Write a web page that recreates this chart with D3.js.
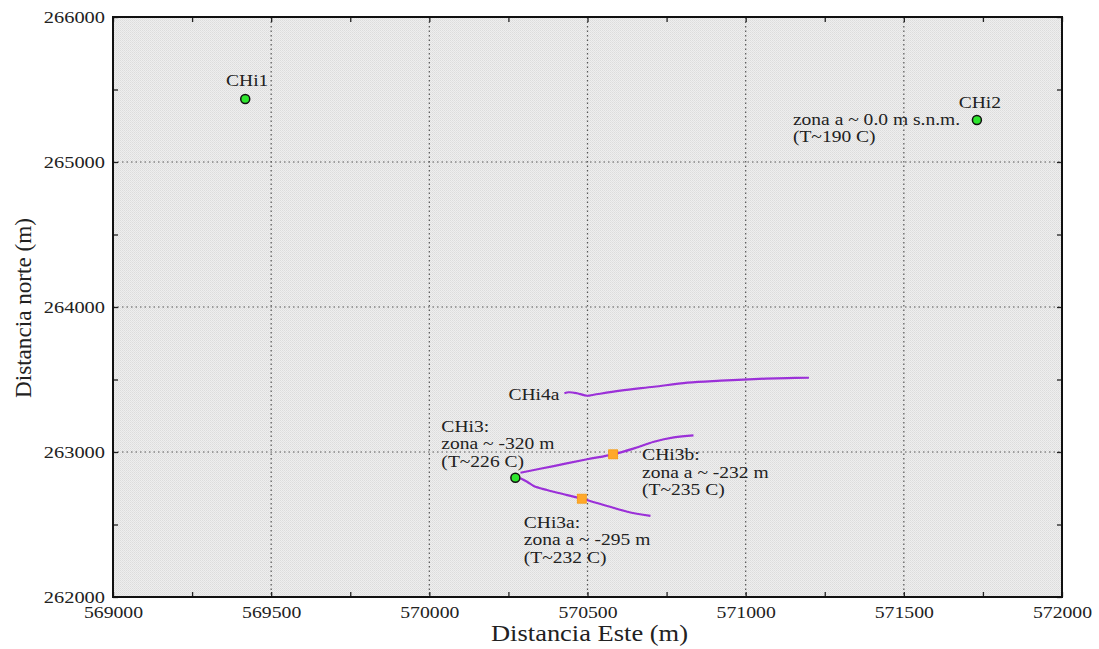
<!DOCTYPE html>
<html>
<head>
<meta charset="utf-8">
<script src="https://cdn.jsdelivr.net/npm/d3@7"></script>
<style>
  body { margin: 0; background: #fff; }
  text { font-family: "Liberation Serif", "Times New Roman", serif; fill: #222; }
</style>
</head>
<body>
<script>
// pozos (puntos verdes)
var wellNames = ["CHi1", "CHi2", "CHi3"];
var wellEste  = [569418, 571731, 570272];
var wellNorte = [265434, 265290, 262823];

// trayectorias
var chi3bEste  = [570288, 570393, 570499, 570581, 570647, 570710, 570773, 570835];
var chi3bNorte = [262857, 262903, 262950, 262984, 263025, 263071, 263101, 263115];

var chi3aEste  = [570288, 570309, 570330, 570372, 570436, 570482, 570562, 570626, 570699];
var chi3aNorte = [262819, 262795, 262766, 262738, 262703, 262678, 262628, 262588, 262559];

var chi4aEste  = [570427, 570441, 570467, 570499, 570520, 570604, 570710, 570816, 570921, 571026, 571132, 571200];
var chi4aNorte = [263405, 263412, 263405, 263388, 263395, 263423, 263450, 263478, 263492, 263503, 263510, 263512];

// zonas de alimentacion (cuadros naranjas)
var zoneNames = ["CHi3a", "CHi3b"];
var zoneEste  = [570482, 570581];
var zoneNorte = [262678, 262984];

// textos
var chi2Text  = ["zona a ~ 0.0 m s.n.m.", "(T~190 C)"];
var chi3Text  = ["CHi3:", "zona ~ -320 m", "(T~226 C)"];
var chi3aText = ["CHi3a:", "zona a ~ -295 m", "(T~232 C)"];
var chi3bText = ["CHi3b:", "zona a ~ -232 m", "(T~235 C)"];

var xTicks = [569000, 569500, 570000, 570500, 571000, 571500, 572000];
var yTicks = [262000, 263000, 264000, 265000, 266000];
var xMinor = d3.range(569000, 572001, 250);
var yMinor = d3.range(262000, 266001, 500);

var W = 1099, H = 649;
var L = 113, R = 1062, T = 17, B = 597;

var svg = d3.select("body").append("svg")
  .attr("width", W).attr("height", H);

var x = d3.scaleLinear().domain([569000, 572000]).range([L, R]);
var y = d3.scaleLinear().domain([262000, 266000]).range([B, T]);

function stretch(sel, k) {
  sel.each(function () {
    var w = this.getComputedTextLength();
    d3.select(this).attr("textLength", w * k).attr("lengthAdjust", "spacingAndGlyphs");
  });
}

// fondo punteado
var defs = svg.append("defs");
var pat = defs.append("pattern").attr("id", "stip")
  .attr("width", 2).attr("height", 2).attr("patternUnits", "userSpaceOnUse");
pat.append("rect").attr("width", 2).attr("height", 2).attr("fill", "#eeeeee");
pat.append("rect").attr("width", 1).attr("height", 1).attr("fill", "#dcdcdc");
pat.append("rect").attr("x", 1).attr("y", 1).attr("width", 1).attr("height", 1).attr("fill", "#e2e2e2");

svg.append("rect")
  .attr("x", L).attr("y", T).attr("width", R - L).attr("height", B - T)
  .attr("fill", "url(#stip)");

// rejilla
var grid = svg.append("g").attr("stroke", "#555").attr("stroke-width", 1.2)
  .attr("stroke-dasharray", "1.5,3");
grid.selectAll(".gx").data(xTicks.slice(1, -1)).enter().append("line")
  .attr("x1", d => x(d)).attr("x2", d => x(d)).attr("y1", T).attr("y2", B);
grid.selectAll(".gy").data(yTicks.slice(1, -1)).enter().append("line")
  .attr("y1", d => y(d)).attr("y2", d => y(d)).attr("x1", L).attr("x2", R);

// ejes
var fmtX = d => (xTicks.indexOf(d) >= 0 ? d : "");
var fmtY = d => (yTicks.indexOf(d) >= 0 ? d : "");

var gx = svg.append("g").attr("transform", "translate(0," + B + ")")
  .call(d3.axisBottom(x).tickValues(xMinor).tickFormat(fmtX).tickSize(-5).tickPadding(9));
var gy = svg.append("g").attr("transform", "translate(" + L + ",0)")
  .call(d3.axisLeft(y).tickValues(yMinor).tickFormat(fmtY).tickSize(-5).tickPadding(8));
svg.append("g").attr("transform", "translate(0," + T + ")")
  .call(d3.axisTop(x).tickValues(xMinor).tickFormat("").tickSize(-5));
svg.append("g").attr("transform", "translate(" + R + ",0)")
  .call(d3.axisRight(y).tickValues(yMinor).tickFormat("").tickSize(-5));

svg.selectAll(".domain").remove();
svg.selectAll(".tick line").attr("stroke", "#222").attr("stroke-width", 1.3);
gx.selectAll("text").attr("font-size", 17).attr("fill", "#222").style("font-family", "Liberation Serif");
gy.selectAll("text").attr("font-size", 17).attr("fill", "#222").style("font-family", "Liberation Serif");

// marco
svg.append("rect")
  .attr("x", L).attr("y", T).attr("width", R - L).attr("height", B - T)
  .attr("fill", "none").attr("stroke", "#111").attr("stroke-width", 2);

// titulos de ejes
svg.append("text").attr("class", "ttl")
  .attr("x", (L + R) / 2 + 2).attr("y", 641)
  .attr("text-anchor", "middle").attr("font-size", 24)
  .text("Distancia Este (m)")
  .attr("textLength", 197).attr("lengthAdjust", "spacingAndGlyphs");

svg.append("text")
  .attr("transform", "translate(31," + 308 + ") rotate(-90)")
  .attr("text-anchor", "middle").attr("font-size", 24)
  .text("Distancia norte (m)")
  .attr("textLength", 180).attr("lengthAdjust", "spacingAndGlyphs");

// trayectorias
var line = d3.line().curve(d3.curveCatmullRom)
  .x(d => x(d[0])).y(d => y(d[1]));
[[chi3bEste, chi3bNorte], [chi3aEste, chi3aNorte], [chi4aEste, chi4aNorte]].forEach(function (p) {
  svg.append("path")
    .datum(d3.zip(p[0], p[1]))
    .attr("d", line)
    .attr("fill", "none").attr("stroke", "#9b30d8").attr("stroke-width", 2.2);
});

// zonas
svg.selectAll(".zone").data(zoneNames).enter().append("rect")
  .attr("x", (d, i) => x(zoneEste[i]) - 4.5)
  .attr("y", (d, i) => y(zoneNorte[i]) - 4.5)
  .attr("width", 9).attr("height", 9)
  .attr("fill", "#ffa82a").attr("stroke", "#f59a10").attr("stroke-width", 0.8);

// pozos
svg.selectAll(".well").data(wellNames).enter().append("circle")
  .attr("cx", (d, i) => x(wellEste[i]))
  .attr("cy", (d, i) => y(wellNorte[i]))
  .attr("r", 4.5)
  .attr("fill", "#2ee62e").attr("stroke", "#111").attr("stroke-width", 1.5);

// etiquetas
var lab = svg.append("g").attr("font-size", 16);

function block(lines, px, py, anchor) {
  lines.forEach(function (t, i) {
    lab.append("text").attr("class", "ann")
      .attr("x", px).attr("y", py + i * 17.5)
      .attr("text-anchor", anchor).text(t);
  });
}

block(["CHi1"], x(wellEste[0]) + 2, y(wellNorte[0]) - 13, "middle");
block(["CHi2"], x(wellEste[1]) + 3, y(wellNorte[1]) - 12, "middle");
block(chi2Text, x(wellEste[1]) - 184, y(wellNorte[1]) + 5, "start");
block(chi3Text, x(wellEste[2]) - 74, y(wellNorte[2]) - 46, "start");
block(["CHi4a"], x(chi4aEste[0]) - 5, y(chi4aNorte[0]) + 7, "end");
block(chi3aText, x(zoneEste[0]) - 58, y(zoneNorte[0]) + 29, "start");
block(chi3bText, x(zoneEste[1]) + 29, y(zoneNorte[1]) + 6, "start");

stretch(lab.selectAll("text"), 1.22);
stretch(gx.selectAll("text"), 1.16);
stretch(gy.selectAll("text"), 1.2);
</script>
</body>
</html>
